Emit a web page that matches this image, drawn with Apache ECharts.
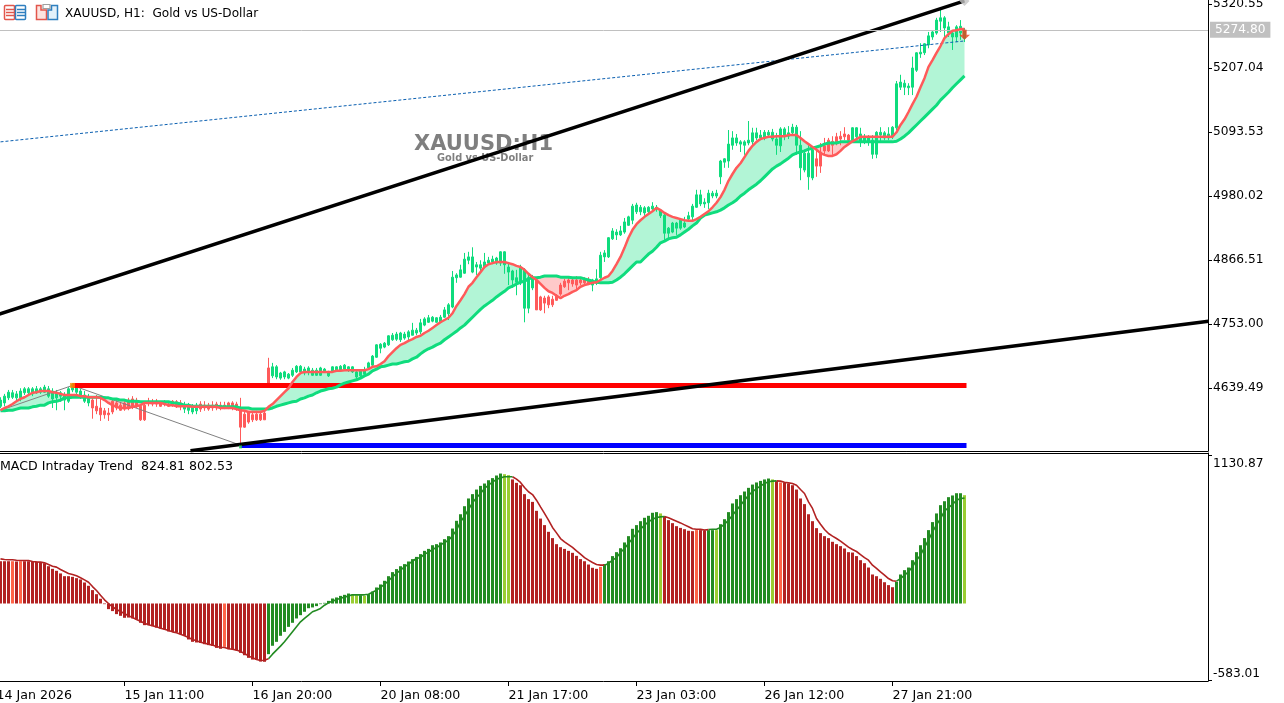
<!DOCTYPE html>
<html lang="en">
<head>
<meta charset="UTF-8">
<title>XAUUSD H1</title>
<script src="https://cdn.jsdelivr.net/npm/echarts@6/dist/echarts.min.js"></script>
<style>
html, body { margin: 0; padding: 0; background: #fff; }
#main { width: 1284px; height: 703px; }
</style>
</head>
<body>
<div id="main"></div>
<script>
// bar index on the x scale, one row = 10 bars
var tickBars = [-1, 31, 63, 95, 127, 159, 191, 223];
var tickLabels = ['14 Jan 2026', '15 Jan 11:00', '16 Jan 20:00', '20 Jan 08:00', '21 Jan 17:00', '23 Jan 03:00', '26 Jan 12:00', '27 Jan 21:00'];
var priceTicks = [5320.55, 5207.04, 5093.53, 4980.02, 4866.51, 4753.00, 4639.49];
var macdTicks = [-583.01, 1130.87];
var currentPrice = 5274.80;

var bodyHigh = [
4618,4625,4632,4631,4629,4634,4638,4638,4638,4638,
4638,4641,4638,4634,4631,4631,4627,4638,4646,4641,
4634,4627,4623,4618,4607,4604,4599,4595,4616,4613,
4609,4613,4618,4620,4616,4607,4609,4616,4615,4616,
4613,4615,4611,4616,4615,4613,4609,4607,4606,4609,
4611,4609,4609,4609,4611,4609,4609,4613,4613,4611,
4604,4593,4595,4592,4593,4593,4595,4675,4677,4677,
4666,4668,4664,4671,4678,4678,4673,4675,4671,4671,
4675,4673,4668,4677,4677,4678,4680,4677,4677,4668,
4671,4671,4684,4696,4716,4717,4719,4732,4733,4735,
4737,4735,4739,4742,4742,4755,4762,4764,4765,4764,
4765,4778,4787,4836,4840,4849,4868,4872,4872,4858,
4858,4863,4866,4868,4870,4881,4881,4854,4847,4835,
4854,4849,4835,4835,4831,4801,4799,4801,4797,4804,
4822,4829,4831,4831,4831,4831,4831,4831,4831,4833,
4875,4879,4906,4918,4916,4918,4934,4943,4962,4964,
4960,4959,4960,4962,4960,4955,4946,4923,4932,4932,
4937,4932,4945,4962,4982,4982,4969,4985,4985,4985,
5042,5046,5072,5083,5083,5076,5076,5079,5092,5092,
5088,5093,5093,5093,5081,5099,5099,5092,5102,5102,
5070,5056,5056,5062,5046,5058,5069,5079,5077,5085,
5086,5090,5088,5101,5101,5090,5083,5085,5079,5093,
5093,5092,5090,5102,5179,5182,5180,5175,5207,5234,
5235,5250,5264,5271,5292,5296,5296,5280,5269,5280,5281,5274];

var bodyLow = [
4607,4613,4622,4623,4622,4622,4631,4631,4629,4631,
4632,4632,4625,4620,4622,4625,4618,4616,4636,4632,
4625,4616,4613,4604,4599,4592,4592,4592,4597,4604,
4600,4602,4604,4606,4607,4583,4583,4613,4611,4611,
4607,4611,4607,4609,4609,4607,4602,4600,4597,4599,
4602,4604,4602,4604,4604,4604,4606,4604,4606,4604,
4570,4570,4579,4583,4583,4583,4583,4646,4661,4659,
4657,4659,4657,4662,4668,4668,4666,4668,4662,4662,
4662,4668,4661,4668,4670,4671,4673,4671,4668,4659,
4661,4664,4675,4680,4694,4710,4712,4716,4725,4726,
4725,4728,4730,4733,4737,4739,4751,4756,4758,4756,
4756,4765,4771,4783,4835,4836,4843,4866,4845,4854,
4852,4854,4861,4863,4861,4861,4858,4845,4831,4827,
4826,4781,4781,4817,4778,4778,4790,4787,4787,4795,
4806,4819,4826,4824,4822,4826,4826,4826,4822,4826,
4835,4872,4872,4904,4911,4911,4916,4928,4937,4952,
4952,4950,4952,4957,4957,4945,4914,4914,4916,4923,
4923,4925,4939,4943,4960,4966,4966,4968,4980,4980,
5014,5040,5042,5070,5074,5072,5070,5074,5076,5083,
5083,5083,5088,5081,5070,5069,5086,5086,5092,5070,
5030,5026,5014,5012,5033,5033,5060,5060,5070,5076,
5081,5085,5079,5079,5085,5076,5076,5076,5054,5054,
5088,5083,5083,5085,5101,5173,5173,5172,5173,5203,
5232,5234,5248,5262,5269,5290,5278,5269,5262,5262,5269,5260];

var wickHigh = [
4623,4629,4636,4636,4634,4639,4641,4641,4641,4643,
4641,4645,4643,4639,4636,4634,4632,4641,4648,4645,
4638,4634,4629,4623,4627,4620,4604,4604,4620,4618,
4613,4616,4622,4625,4622,4611,4613,4622,4620,4620,
4616,4618,4615,4618,4618,4618,4615,4613,4611,4613,
4616,4616,4613,4616,4615,4615,4615,4615,4616,4615,
4622,4600,4597,4597,4599,4599,4599,4693,4684,4680,
4668,4670,4666,4675,4680,4680,4677,4678,4675,4675,
4677,4675,4670,4678,4678,4680,4682,4678,4678,4670,
4673,4677,4686,4698,4717,4719,4721,4733,4737,4739,
4739,4739,4742,4755,4746,4762,4765,4769,4767,4765,
4769,4783,4790,4847,4843,4858,4879,4881,4889,4863,
4866,4879,4872,4874,4872,4882,4882,4863,4849,4849,
4858,4852,4840,4840,4833,4803,4803,4804,4803,4806,
4826,4833,4838,4836,4838,4836,4836,4836,4833,4850,
4881,4884,4907,4923,4921,4927,4941,4945,4966,4968,
4964,4962,4962,4969,4964,4957,4948,4925,4934,4934,
4941,4943,4952,4966,4991,4991,4976,4991,4989,4991,
5044,5047,5097,5095,5090,5079,5079,5113,5101,5101,
5097,5097,5097,5099,5092,5102,5102,5104,5108,5106,
5095,5062,5070,5065,5065,5074,5083,5083,5086,5092,
5095,5102,5090,5102,5102,5101,5090,5088,5088,5095,
5102,5095,5102,5104,5184,5195,5186,5180,5227,5235,
5251,5251,5271,5274,5296,5310,5299,5289,5273,5283,5292,5278];

var wickLow = [
4604,4607,4618,4620,4618,4616,4627,4627,4625,4629,
4629,4631,4622,4604,4600,4615,4600,4613,4632,4623,
4620,4613,4607,4585,4593,4581,4585,4581,4593,4600,
4599,4599,4600,4602,4604,4581,4581,4607,4607,4606,
4606,4607,4606,4606,4604,4600,4595,4593,4593,4593,
4597,4599,4599,4599,4600,4600,4602,4602,4600,4599,
4542,4569,4576,4579,4581,4581,4583,4643,4657,4655,
4654,4655,4655,4659,4666,4664,4662,4662,4661,4661,
4661,4666,4659,4666,4668,4668,4670,4668,4666,4655,
4659,4662,4673,4678,4693,4701,4710,4714,4723,4723,
4721,4725,4723,4733,4733,4735,4749,4755,4756,4755,
4755,4764,4760,4781,4826,4835,4842,4859,4843,4840,
4845,4852,4858,4859,4858,4856,4842,4822,4817,4804,
4822,4756,4772,4813,4778,4776,4772,4781,4783,4794,
4803,4817,4813,4819,4813,4822,4824,4822,4811,4822,
4833,4863,4870,4902,4902,4909,4913,4927,4930,4948,
4946,4945,4948,4955,4952,4941,4902,4904,4914,4911,
4920,4923,4937,4937,4959,4962,4959,4957,4976,4976,
5001,5030,5030,5062,5069,5058,5053,5070,5069,5079,
5079,5079,5085,5077,5053,5058,5079,5081,5088,5053,
5008,5022,4991,5008,5014,5021,5053,5058,5053,5070,
5070,5079,5077,5076,5079,5067,5072,5069,5046,5047,
5077,5079,5079,5081,5097,5168,5159,5159,5159,5200,
5225,5230,5242,5257,5266,5271,5262,5262,5239,5253,5257,5253];

var fastMa = [
4600,4604,4607,4611,4616,4620,4623,4627,4631,4632,
4634,4634,4634,4632,4631,4629,4627,4627,4627,4627,
4625,4625,4623,4623,4623,4622,4618,4613,4609,4606,
4604,4604,4604,4606,4607,4609,4613,4613,4613,4613,
4613,4611,4609,4609,4607,4607,4607,4607,4606,4606,
4606,4606,4606,4606,4606,4604,4604,4604,4604,4602,
4600,4599,4597,4597,4597,4597,4599,4606,4611,4618,
4625,4632,4639,4650,4659,4666,4668,4668,4668,4668,
4668,4668,4668,4668,4670,4670,4671,4671,4671,4671,
4671,4671,4673,4677,4678,4682,4687,4696,4703,4710,
4716,4719,4723,4726,4730,4732,4737,4741,4746,4751,
4756,4760,4764,4772,4785,4795,4806,4819,4826,4836,
4845,4854,4859,4861,4863,4863,4863,4861,4859,4856,
4854,4849,4842,4836,4831,4824,4817,4811,4808,4803,
4799,4803,4806,4810,4813,4819,4822,4824,4826,4827,
4831,4835,4838,4847,4859,4872,4888,4906,4920,4930,
4937,4943,4948,4953,4959,4955,4950,4946,4943,4941,
4939,4937,4936,4936,4939,4943,4948,4953,4960,4968,
4978,4991,5007,5019,5030,5038,5049,5060,5069,5076,
5081,5083,5085,5085,5086,5086,5086,5088,5088,5088,
5083,5077,5072,5067,5062,5056,5053,5051,5051,5054,
5060,5067,5072,5077,5081,5085,5085,5085,5085,5085,
5085,5085,5085,5085,5093,5106,5116,5129,5143,5156,
5173,5189,5209,5221,5234,5246,5260,5267,5273,5274,5276,5276];

var slowMa = [
4599,4599,4600,4600,4602,4604,4604,4604,4606,4607,
4609,4609,4613,4615,4616,4618,4622,4622,4623,4623,
4623,4623,4623,4623,4623,4623,4622,4622,4620,4620,
4618,4618,4616,4616,4616,4615,4615,4615,4615,4615,
4615,4615,4615,4613,4613,4611,4609,4609,4607,4607,
4607,4607,4607,4607,4607,4606,4606,4606,4606,4606,
4604,4604,4604,4602,4602,4602,4602,4602,4604,4607,
4609,4611,4613,4615,4616,4620,4622,4625,4627,4631,
4634,4636,4638,4639,4641,4645,4648,4650,4652,4654,
4657,4661,4664,4670,4673,4677,4678,4680,4682,4682,
4684,4686,4687,4691,4694,4700,4705,4709,4712,4716,
4719,4725,4730,4735,4740,4746,4751,4758,4765,4772,
4779,4785,4790,4795,4801,4806,4811,4817,4820,4824,
4827,4829,4833,4835,4835,4836,4838,4838,4838,4838,
4836,4836,4836,4835,4835,4835,4833,4831,4829,4827,
4826,4826,4826,4827,4831,4836,4842,4849,4856,4863,
4863,4870,4877,4882,4889,4897,4900,4904,4906,4907,
4911,4916,4921,4927,4932,4941,4946,4948,4950,4952,
4955,4959,4964,4968,4973,4980,4985,4991,4996,5001,
5007,5014,5021,5028,5033,5037,5042,5047,5053,5056,
5058,5060,5063,5065,5067,5069,5072,5074,5074,5074,
5076,5076,5076,5076,5076,5076,5076,5076,5076,5076,
5076,5076,5076,5076,5077,5081,5086,5092,5099,5106,
5113,5120,5127,5134,5141,5150,5157,5164,5172,5179,5186,5193];

var macdBars = [
322,322,322,322,320,322,322,322,320,317,
315,307,284,264,249,229,208,208,203,193,
183,160,135,102,71,36,-5,-43,-58,-81,
-94,-109,-107,-114,-122,-147,-165,-165,-173,-183,
-190,-198,-213,-216,-221,-234,-246,-274,-292,-297,
-300,-310,-317,-322,-338,-345,-330,-348,-350,-355,
-376,-394,-414,-427,-429,-442,-444,-386,-322,-292,
-246,-216,-178,-147,-114,-89,-63,-36,-30,-20,
-5,5,20,38,46,58,66,76,71,63,
63,58,71,91,122,145,173,208,239,262,
284,300,320,338,355,376,401,416,444,452,
465,490,513,571,630,680,741,800,833,868,
896,914,939,955,975,990,985,978,945,919,
901,833,795,774,706,647,597,546,498,452,
429,416,401,386,363,338,322,297,272,264,
279,300,322,361,391,421,465,513,569,597,
627,653,668,691,696,686,665,635,612,589,
576,566,554,551,559,559,554,559,559,559,
604,642,696,762,795,825,853,881,906,922,
934,945,952,945,932,922,922,914,901,868,
800,757,680,627,574,536,513,498,470,452,
437,419,391,388,361,330,307,274,221,208,
188,162,140,124,165,221,254,274,330,391,
444,498,559,620,686,749,779,810,823,840,840,825];

var macdLine = [
340,335,333,333,330,328,328,328,320,317,
315,310,297,284,277,259,244,229,221,211,
196,180,162,129,99,63,28,0,-25,-46,
-61,-76,-94,-107,-122,-135,-150,-162,-170,-178,
-188,-196,-206,-216,-223,-234,-246,-259,-274,-284,
-295,-302,-310,-317,-328,-333,-335,-345,-348,-355,
-366,-381,-399,-414,-427,-434,-432,-421,-386,-355,
-325,-292,-254,-216,-178,-140,-114,-89,-63,-51,
-38,-13,5,18,28,41,48,58,66,66,
66,66,71,86,102,122,145,173,203,229,
254,279,300,322,343,350,376,391,411,427,
444,465,482,515,559,622,665,716,767,805,
838,876,901,924,945,957,965,965,965,947,
922,884,851,830,787,736,686,635,579,538,
495,470,449,427,401,376,350,330,312,297,
292,292,305,330,350,388,419,457,495,533,
566,597,622,642,655,660,663,653,640,627,
614,599,584,569,566,566,559,564,566,566,
579,604,635,673,711,749,787,825,851,876,
894,914,927,932,934,932,924,919,914,901,
868,838,774,724,647,604,564,533,513,495,
475,452,429,411,396,373,350,330,292,267,
241,216,190,173,170,190,216,241,279,330,
368,427,482,546,599,647,703,731,754,787,800,803];

// bar colour keys: R firebrick, T tomato, G forestgreen, Y yellowgreen
var macdColorRuns = [[0,2,'R'],[3,3,'T'],[4,4,'R'],[5,5,'T'],[6,55,'R'],[56,56,'T'],[57,66,'R'],[67,87,'G'],[88,89,'Y'],[90,90,'G'],[91,91,'Y'],[92,125,'G'],[126,127,'Y'],[128,149,'R'],[150,150,'T'],[151,164,'G'],[165,165,'Y'],[166,173,'R'],[174,174,'T'],[175,176,'R'],[177,178,'G'],[179,179,'Y'],[180,192,'G'],[193,193,'Y'],[194,194,'R'],[195,195,'T'],[196,223,'R'],[224,240,'G'],[241,241,'Y']];
var redCandleRuns = [[23,45],[50,67],[134,147],[204,212]];

// drawn objects on the price pane, [bar, price]
var upperTrend = [[-1,4769],[241,5326]];
var lowerTrend = [[47.5,4528],[302,4758]];
var blueDashed = [[0,5076],[241,5255]];
var zigzag = [[0,4600],[18,4644],[60,4538]];
var redLevel = [[18,4644],[241.5,4644]];
var blueLevel = [[60,4537.5],[241.5,4537.5]];
var zigzagHigh = [[18,4644]];
var zigzagLow = [[60,4535]];
var arrowPoint = [[241,5266]];
var trendEnd = [[241,5326]];

var greenCol = '#0fdc7d', redCol = '#ff5a5a';
var macdColors = {R:'#b22222', T:'#ff6347', G:'#228b22', Y:'#9acd32'};
var font = '"DejaVu Sans", sans-serif';

function keyAt(i) {
    for (var k = 0; k < macdColorRuns.length; k++) {
        if (i >= macdColorRuns[k][0] && i <= macdColorRuns[k][1]) return macdColorRuns[k][2];
    }
    return 'R';
}
function isRedCandle(i) {
    return redCandleRuns.some(function (r) { return i >= r[0] && i <= r[1]; });
}

var candleData = bodyHigh.map(function (h, i) {
    var c = isRedCandle(i) ? redCol : greenCol;
    return {
        value: [i, bodyLow[i], h, wickLow[i], wickHigh[i]],
        itemStyle: {color: c, color0: c, borderColor: c, borderColor0: c}
    };
});

// split the ribbon where the two averages cross
var ribbonRuns = [];
var start = 0;
for (var i = 1; i <= fastMa.length; i++) {
    if (i === fastMa.length || (fastMa[i] >= slowMa[i]) !== (fastMa[start] >= slowMa[start])) {
        ribbonRuns.push([start, Math.min(i, fastMa.length - 1), fastMa[start] >= slowMa[start] ? 1 : 0]);
        start = i;
    }
}

function pairs(arr) { return arr.map(function (v, i) { return [i, v]; }); }
function macdSegment(keys) {
    return macdLine.map(function (v, i) {
        var on = keys.indexOf(keyAt(i)) >= 0 || (i > 0 && keys.indexOf(keyAt(i - 1)) >= 0);
        return [i, on ? v : null];
    });
}
function overlay(name, data, color, width, z, dashed) {
    return {
        name: name, type: 'line', data: data, showSymbol: false, silent: true, z: z,
        lineStyle: {color: color, width: width, type: dashed ? [3, 2] : 'solid', cap: 'butt'}
    };
}
function marker(data, symbol, size, color, z) {
    return {type: 'scatter', data: data, symbol: symbol, symbolSize: size, itemStyle: {color: color}, silent: true, z: z};
}

var myChart = echarts.init(document.getElementById('main'));
myChart.setOption({
    animation: false,
    backgroundColor: '#fff',
    textStyle: {fontFamily: font},
    title: [
        {text: 'XAUUSD, H1:  Gold vs US-Dollar', left: 65, top: 8, padding: 0, textStyle: {fontSize: 12.1, fontWeight: 'normal', color: '#000', fontFamily: font}},
        {text: 'MACD Intraday Trend  824.81 802.53', left: 0, top: 460, padding: 0, textStyle: {fontSize: 12.6, fontWeight: 'normal', color: '#000', fontFamily: font}},
        {text: 'XAUUSD:H1', left: 414, top: 134, padding: 0, z: 0, textStyle: {fontSize: 21, fontWeight: 'bold', color: '#7f7f7f', fontFamily: font}},
        {text: 'Gold vs US-Dollar', left: 437, top: 153, padding: 0, z: 0, textStyle: {fontSize: 9.8, fontWeight: 'bold', color: '#7f7f7f', fontFamily: font}}
    ],
    graphic: [
        {type: 'rect', shape: {x: 4.5, y: 5.5, width: 10, height: 14, r: 1}, style: {fill: '#fff', stroke: '#e2564b', lineWidth: 1.5}},
        {type: 'rect', shape: {x: 15.5, y: 5.5, width: 10, height: 14, r: 1}, style: {fill: '#fff', stroke: '#2f7fbf', lineWidth: 1.5}},
        {type: 'line', shape: {x1: 6, y1: 9.5, x2: 14, y2: 9.5}, style: {stroke: '#e2564b', lineWidth: 1.5}},
        {type: 'line', shape: {x1: 6, y1: 12.5, x2: 14, y2: 12.5}, style: {stroke: '#e2564b', lineWidth: 1.5}},
        {type: 'line', shape: {x1: 6, y1: 15.5, x2: 14, y2: 15.5}, style: {stroke: '#e2564b', lineWidth: 1.5}},
        {type: 'line', shape: {x1: 17, y1: 9.5, x2: 25, y2: 9.5}, style: {stroke: '#2f7fbf', lineWidth: 1.5}},
        {type: 'line', shape: {x1: 17, y1: 12.5, x2: 25, y2: 12.5}, style: {stroke: '#2f7fbf', lineWidth: 1.5}},
        {type: 'line', shape: {x1: 17, y1: 15.5, x2: 25, y2: 15.5}, style: {stroke: '#2f7fbf', lineWidth: 1.5}},
        {type: 'polygon', shape: {points: [[36.5, 5.5], [41, 5.5], [41, 10], [46.5, 10], [46.5, 19.5], [36.5, 19.5]]}, style: {fill: '#fde3df', stroke: '#e2564b', lineWidth: 1.5}},
        {type: 'polygon', shape: {points: [[48, 10], [51.5, 10], [51.5, 5.5], [57.5, 5.5], [57.5, 19.5], [48, 19.5]]}, style: {fill: '#e3f1fa', stroke: '#2f7fbf', lineWidth: 1.5}},
        {type: 'rect', shape: {x: 43, y: 4.5, width: 7, height: 4}, style: {fill: '#fff', stroke: '#a0a0a0', lineWidth: 1.2}}
    ],
    grid: [
        {left: -4, top: -1, width: 1212, height: 452, outerBoundsMode: 'none'},
        {left: -4, top: 453, width: 1212, height: 228, outerBoundsMode: 'none'}
    ],
    xAxis: [
        {type: 'value', gridIndex: 0, min: -1.125, max: 301.875, splitLine: {show: false},
            axisLine: {onZero: false, lineStyle: {color: '#000'}}, axisTick: {show: false}, axisLabel: {show: false}},
        {type: 'value', gridIndex: 1, min: -1.125, max: 301.875, splitLine: {show: false},
            axisLine: {onZero: false, lineStyle: {color: '#000'}},
            axisTick: {length: 5, lineStyle: {color: '#000'}, customValues: tickBars},
            axisLabel: {
                customValues: tickBars, align: 'left', margin: 8, fontSize: 12.6, color: '#000', fontFamily: font,
                hideOverlap: false, showMinLabel: true, showMaxLabel: true,
                formatter: function (v) { return tickLabels[tickBars.indexOf(v)]; }
            }},
        {type: 'value', gridIndex: 1, position: 'top', min: -1.125, max: 301.875, splitLine: {show: false},
            axisLine: {onZero: false, lineStyle: {color: '#000'}}, axisTick: {show: false}, axisLabel: {show: false}}
    ],
    yAxis: [
        {type: 'value', gridIndex: 0, position: 'right', min: 4527.7, max: 5329.4, splitLine: {show: false},
            axisLine: {show: true, onZero: false, lineStyle: {color: '#000'}},
            axisTick: {show: true, length: 4, lineStyle: {color: '#000'}, customValues: priceTicks},
            axisLabel: {customValues: priceTicks, margin: 5, fontSize: 12.2, color: '#000', fontFamily: font, padding: [2, 0, 0, 0],
                hideOverlap: false, showMinLabel: true, showMaxLabel: true,
                formatter: function (v) { return v.toFixed(2); }}},
        {type: 'value', gridIndex: 1, position: 'right', min: -590.4, max: 1146.4, splitLine: {show: false},
            axisLine: {show: true, onZero: false, lineStyle: {color: '#000'}},
            axisTick: {show: true, length: 4, lineStyle: {color: '#000'}, customValues: macdTicks},
            axisLabel: {customValues: macdTicks, margin: 5, fontSize: 12.2, color: '#000', fontFamily: font, padding: [3, 0, 0, 0],
                hideOverlap: false, showMinLabel: true, showMaxLabel: true,
                verticalAlignMinLabel: 'bottom', verticalAlignMaxLabel: 'top',
                formatter: function (v) { return v.toFixed(2); }}}
    ],
    series: [
        {
            name: 'ribbon', type: 'custom', data: ribbonRuns, silent: true, z: 1, clip: true,
            renderItem: function (params, api) {
                var run = ribbonRuns[params.dataIndex];
                var pts = [];
                for (var k = run[0]; k <= run[1]; k++) pts.push(api.coord([k, fastMa[k]]));
                for (var m = run[1]; m >= run[0]; m--) pts.push(api.coord([m, slowMa[m]]));
                return {type: 'polygon', shape: {points: pts}, style: {fill: run[2] ? '#b2f5d6' : '#ffc9c9'}};
            }
        },
        {
            name: 'XAUUSD', type: 'candlestick', data: candleData, barWidth: 2, silent: true, z: 2,
            itemStyle: {borderWidth: 1},
            markLine: {
                silent: true, symbol: 'none', animation: false,
                lineStyle: {color: '#c0c0c0', type: 'solid', width: 1},
                label: {position: 'end', distance: 2, formatter: currentPrice.toFixed(2), color: '#fff', backgroundColor: '#c0c0c0', padding: [2, 5], fontSize: 12.2, fontFamily: font},
                data: [{yAxis: currentPrice}]
            }
        },
        overlay('zigzag', zigzag, '#808080', 1, 3),
        overlay('blue dashed', blueDashed, '#0a5fb0', 1, 3, true),
        overlay('red level', redLevel, '#ff0000', 5, 3),
        overlay('blue level', blueLevel, '#0000ff', 5, 3),
        overlay('upper trend', upperTrend, '#000', 3.5, 4),
        overlay('lower trend', lowerTrend, '#000', 3.5, 4),
        overlay('slow', pairs(slowMa), greenCol, 3, 5),
        overlay('fast', pairs(fastMa), redCol, 2.5, 5),
        marker(zigzagHigh, 'rect', 5, '#ff8c00', 6),
        marker(zigzagLow, 'rect', 3, '#22c55e', 6),
        marker(trendEnd, 'diamond', 10, '#c4c4c4', 6),
        marker(arrowPoint, 'path://M3,0 L7,0 L7,5 L10,5 L5,10 L0,5 L3,5 Z', [11, 10], '#e8401c', 6),
        {
            name: 'macd', type: 'bar', xAxisIndex: 1, yAxisIndex: 1, barWidth: 3, silent: true, z: 2,
            data: macdBars.map(function (v, i) {
                return {value: [i, v], itemStyle: {color: macdColors[keyAt(i)]}};
            })
        },
        {name: 'macd line red', type: 'line', xAxisIndex: 1, yAxisIndex: 1, data: macdSegment(['R', 'T']), showSymbol: false, silent: true, z: 3, lineStyle: {color: '#b22222', width: 1.6}},
        {name: 'macd line green', type: 'line', xAxisIndex: 1, yAxisIndex: 1, data: macdSegment(['G', 'Y']), showSymbol: false, silent: true, z: 3, lineStyle: {color: '#228b22', width: 1.6}}
    ]
});
</script>
</body>
</html>
